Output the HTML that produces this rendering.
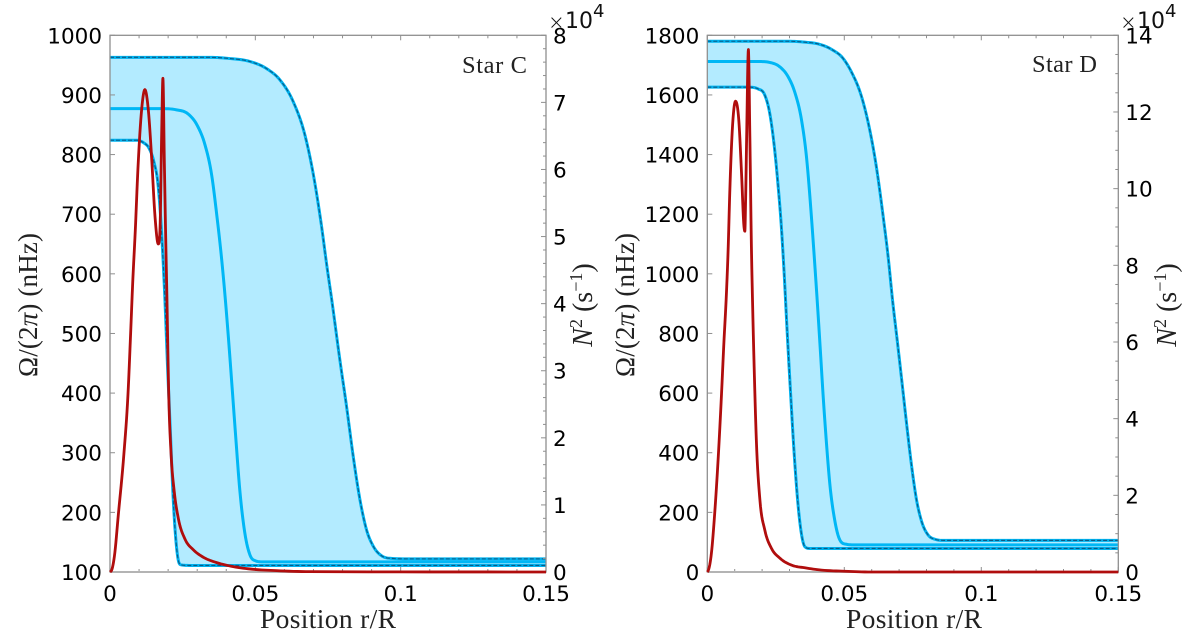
<!DOCTYPE html>
<html lang="en">
<head>
<meta charset="utf-8">
<title>Rotation profiles of Star C and Star D</title>
<style>
html,body{margin:0;padding:0;background:#fff;width:1200px;height:635px;overflow:hidden}
svg{display:block}
.tick-label{font-family:"DejaVu Sans",sans-serif;font-size:21.5px;fill:#000}
.serif{font-family:"Liberation Serif",serif;fill:#222}
</style>
</head>
<body>
<svg id="chart" xmlns="http://www.w3.org/2000/svg" width="1200" height="635" viewBox="0 0 1200 635">
  <g id="panel-c"></g>
  <g id="panel-d"></g>

  <text class="serif" x="328" y="628" font-size="27.5" text-anchor="middle" textLength="136" lengthAdjust="spacing">Position r/R</text>
  <text class="serif" x="914" y="628" font-size="27.5" text-anchor="middle" textLength="136" lengthAdjust="spacing">Position r/R</text>

  <text class="serif" transform="translate(37,305) rotate(-90)" font-size="27" text-anchor="middle" textLength="144" lengthAdjust="spacing">Ω/(2<tspan font-style="italic">π</tspan>) (nHz)</text>
  <text class="serif" transform="translate(634,305) rotate(-90)" font-size="27" text-anchor="middle" textLength="144" lengthAdjust="spacing">Ω/(2<tspan font-style="italic">π</tspan>) (nHz)</text>

  <text class="serif" transform="translate(592,305) rotate(-90)" font-size="28" text-anchor="middle"><tspan font-style="italic">N</tspan><tspan font-size="18" dy="-10">2</tspan><tspan dy="10"> (s</tspan><tspan font-size="18" dy="-10">−1</tspan><tspan dy="10">)</tspan></text>
  <text class="serif" transform="translate(1176,305) rotate(-90)" font-size="28" text-anchor="middle"><tspan font-style="italic">N</tspan><tspan font-size="18" dy="-10">2</tspan><tspan dy="10"> (s</tspan><tspan font-size="18" dy="-10">−1</tspan><tspan dy="10">)</tspan></text>

  <text class="serif" x="462" y="73" font-size="24.5" textLength="65" lengthAdjust="spacing">Star C</text>
  <text class="serif" x="1032" y="72" font-size="24.5" textLength="65" lengthAdjust="spacing">Star D</text>

  <g font-family="DejaVu Sans, sans-serif" fill="#111">
    <text x="548" y="29" font-size="20" font-weight="200">×</text>
    <text x="565" y="28" font-size="22">10</text>
    <text x="593" y="17" font-size="18">4</text>
  </g>
  <g font-family="DejaVu Sans, sans-serif" fill="#111">
    <text x="1120" y="29" font-size="20" font-weight="200">×</text>
    <text x="1137" y="28" font-size="22">10</text>
    <text x="1165" y="17" font-size="18">4</text>
  </g>
</svg>

<script>
// Shared x axis
const xMajorTicks = [0, 0.05, 0.1, 0.15];
const xMinorTicks = [0.01, 0.02, 0.03, 0.04, 0.06, 0.07, 0.08, 0.09, 0.11, 0.12, 0.13, 0.14];
const xTickLabels = ["0", "0.05", "0.1", "0.15"];

// Star C axes
const cOmegaTicks = [100, 200, 300, 400, 500, 600, 700, 800, 900, 1000];
const cN2Ticks = [0, 1, 2, 3, 4, 5, 6, 7, 8];
const cN2Minor = [0.2, 0.4, 0.6, 0.8, 1.2, 1.4, 1.6, 1.8, 2.2, 2.4, 2.6, 2.8, 3.2, 3.4, 3.6, 3.8, 4.2, 4.4, 4.6, 4.8, 5.2, 5.4, 5.6, 5.8, 6.2, 6.4, 6.6, 6.8, 7.2, 7.4, 7.6, 7.8];

// Star C series (position r/R, rotation nHz, N^2 in 1e4 s^-1)
const cUpperR = [0, 0.0344, 0.0413, 0.0482, 0.0539, 0.0585, 0.0631, 0.0671, 0.0699, 0.0728, 0.0745, 0.0763, 0.0791, 0.0814, 0.0837, 0.086, 0.0883, 0.0906, 0.0935, 0.0963, 0.1032, 0.15];
const cUpperOmega = [963, 963, 961, 956, 944, 925, 888, 832, 768, 679, 617, 556, 455, 377, 293, 221, 170, 143, 127, 123, 122, 122];
const cMiddleR = [0, 0.0172, 0.0229, 0.0269, 0.03, 0.0327, 0.035, 0.0367, 0.0384, 0.0397, 0.0408, 0.042, 0.0432, 0.0447, 0.0464, 0.0482, 0.0499, 0.0527, 0.15];
const cMiddleOmega = [877, 877, 875, 868, 849, 816, 765, 700, 625, 556, 489, 410, 330, 235, 165, 128, 119, 117, 117];
const cLowerR = [0, 0.0092, 0.0115, 0.0135, 0.0151, 0.0166, 0.0178, 0.0189, 0.0198, 0.0208, 0.0216, 0.0224, 0.0233, 0.0244, 0.0275, 0.15];
const cLowerOmega = [824, 824, 820, 810, 788, 746, 665, 556, 444, 332, 237, 170, 125, 112, 111, 111];
const cN2R = [0, 0.0006, 0.0015, 0.0029, 0.0048, 0.0062, 0.0071, 0.0078, 0.0087, 0.0096, 0.0109, 0.012, 0.0132, 0.0143, 0.0155, 0.0166, 0.0172, 0.0178, 0.0182, 0.0187, 0.0192, 0.0196, 0.0198, 0.0202, 0.021, 0.0221, 0.0235, 0.0258, 0.0287, 0.0321, 0.0367, 0.0424, 0.0493, 0.0573, 0.0688, 0.15];
const cN2 = [0, 0.03, 0.23, 0.87, 1.77, 2.66, 3.56, 4.3, 5.09, 6.0, 6.9, 7.19, 6.88, 6.19, 5.29, 4.89, 5.1, 6.59, 7.36, 6.1, 4.9, 4.05, 3.56, 2.66, 1.77, 1.2, 0.8, 0.49, 0.33, 0.22, 0.14, 0.08, 0.04, 0.02, 0.005, 0];

// Star D axes
const dOmegaTicks = [0, 200, 400, 600, 800, 1000, 1200, 1400, 1600, 1800];
const dN2Ticks = [0, 2, 4, 6, 8, 10, 12, 14];
const dN2Minor = [0.5, 1, 1.5, 2.5, 3, 3.5, 4.5, 5, 5.5, 6.5, 7, 7.5, 8.5, 9, 9.5, 10.5, 11, 11.5, 12.5, 13, 13.5];

// Star D series
const dUpperR = [0, 0.0295, 0.0356, 0.0405, 0.0453, 0.0496, 0.0526, 0.0563, 0.0593, 0.0617, 0.0642, 0.066, 0.0676, 0.0694, 0.071, 0.0727, 0.0745, 0.0763, 0.0782, 0.0806, 0.083, 0.0867, 0.15];
const dUpperOmega = [1780, 1780, 1777, 1771, 1753, 1722, 1677, 1594, 1482, 1359, 1191, 1057, 912, 770, 640, 500, 360, 245, 170, 124, 110, 106, 106];
const dMiddleR = [0, 0.0186, 0.0228, 0.0265, 0.0295, 0.0319, 0.0344, 0.0362, 0.038, 0.0392, 0.0401, 0.0411, 0.0423, 0.0435, 0.0447, 0.0465, 0.0484, 0.0508, 0.0538, 0.15];
const dMiddleOmega = [1712, 1712, 1709, 1694, 1661, 1610, 1515, 1392, 1191, 1035, 912, 767, 588, 431, 297, 174, 107, 93, 91, 91];
const dLowerR = [0, 0.0149, 0.0186, 0.021, 0.0228, 0.0246, 0.0258, 0.0269, 0.028, 0.0291, 0.0304, 0.0317, 0.0335, 0.0346, 0.0356, 0.0374, 0.15];
const dLowerOmega = [1626, 1626, 1620, 1599, 1538, 1415, 1300, 1175, 1010, 815, 599, 398, 190, 115, 85, 79, 79];
const dN2R = [0, 0.0003, 0.0015, 0.0027, 0.004, 0.0052, 0.006, 0.007, 0.0076, 0.0082, 0.0091, 0.0103, 0.0115, 0.0125, 0.0134, 0.0137, 0.014, 0.0144, 0.015, 0.0155, 0.0161, 0.0165, 0.0171, 0.0179, 0.0192, 0.021, 0.0234, 0.0265, 0.0307, 0.0356, 0.0417, 0.0502, 0.0599, 0.15];
const dN2 = [0, 0.03, 0.49, 1.53, 3.0, 4.66, 5.9, 7.3, 8.4, 9.9, 11.5, 12.28, 11.78, 10.39, 9.0, 8.89, 9.78, 11.52, 13.63, 11.52, 8.48, 7.09, 5.35, 3.44, 1.88, 1.09, 0.62, 0.36, 0.18, 0.11, 0.05, 0.02, 0, 0];

const NS = "http://www.w3.org/2000/svg";
const COLOR_AXIS = "#8f8f8f";

function make(parent, tag, attrs) {
  const el = document.createElementNS(NS, tag);
  for (const k in attrs) el.setAttribute(k, attrs[k]);
  parent.appendChild(el);
  return el;
}

// Smooth curve through the read points (limited cubic tangents)
function smooth(xs, ys) {
  const n = xs.length, d = [], m = new Array(n).fill(0), out = [];
  for (let i = 0; i < n - 1; i++) d.push((ys[i + 1] - ys[i]) / (xs[i + 1] - xs[i]));
  m[0] = d[0];
  m[n - 1] = d[n - 2];
  for (let i = 1; i < n - 1; i++) {
    if (d[i - 1] * d[i] > 0) {
      const h0 = xs[i] - xs[i - 1], h1 = xs[i + 1] - xs[i];
      const mean = (h1 * d[i - 1] + h0 * d[i]) / (h0 + h1);
      const lim = 3 * Math.min(Math.abs(d[i - 1]), Math.abs(d[i]));
      m[i] = Math.sign(mean) * Math.min(Math.abs(mean), lim);
    }
  }
  for (let i = 0; i < n - 1; i++) {
    const h = xs[i + 1] - xs[i], steps = 8;
    for (let s = 0; s < steps; s++) {
      const t = s / steps, t2 = t * t, t3 = t2 * t;
      out.push([
        xs[i] + t * h,
        (2 * t3 - 3 * t2 + 1) * ys[i] + (t3 - 2 * t2 + t) * h * m[i] +
        (-2 * t3 + 3 * t2) * ys[i + 1] + (t3 - t2) * h * m[i + 1]
      ]);
    }
  }
  out.push([xs[n - 1], ys[n - 1]]);
  return out;
}

function drawPanel(root, cfg) {
  const sx = r => cfg.x0 + (r - 0) / 0.15 * (cfg.x1 - cfg.x0);
  const syL = v => cfg.y1 - (v - cfg.omegaMin) / (cfg.omegaMax - cfg.omegaMin) * (cfg.y1 - cfg.y0);
  const syR = v => cfg.y1 - v / cfg.n2Max * (cfg.y1 - cfg.y0);
  const pathOf = (pts, sy) => pts.map((p, i) => (i ? "L" : "M") + sx(p[0]).toFixed(2) + " " + sy(p[1]).toFixed(2)).join("");

  const upper = smooth(cfg.upperR, cfg.upperOmega);
  const middle = smooth(cfg.middleR, cfg.middleOmega);
  const lower = smooth(cfg.lowerR, cfg.lowerOmega);
  const red = smooth(cfg.n2R, cfg.n2);

  // band between upper and lower rotation profiles
  const bandPath = pathOf(upper.concat(lower.slice().reverse()), syL) + "Z";
  const band = make(root, "path", { d: bandPath, fill: "#b3ebff", stroke: "none" });
  
  

  const upperLine = make(root, "path", { d: pathOf(upper, syL), fill: "none", stroke: "#00b2ee", "stroke-width": 3 });
  
  
  const upperDash = make(root, "path", { d: pathOf(upper, syL), fill: "none", stroke: "#0b5a86", "stroke-width": 1.1, "stroke-dasharray": "4 2" });
  
  

  const lowerLine = make(root, "path", { d: pathOf(lower, syL), fill: "none", stroke: "#00b2ee", "stroke-width": 3 });
  
  
  const lowerDash = make(root, "path", { d: pathOf(lower, syL), fill: "none", stroke: "#0b5a86", "stroke-width": 1.1, "stroke-dasharray": "4 2" });
  
  

  const middleLine = make(root, "path", { d: pathOf(middle, syL), fill: "none", stroke: "#00b7f5", "stroke-width": 3 });
  
  

  // axes box
  const box = make(root, "rect", { x: cfg.x0, y: cfg.y0, width: cfg.x1 - cfg.x0, height: cfg.y1 - cfg.y0, fill: "none", stroke: COLOR_AXIS, "stroke-width": 1.3 });
  
  

  const tick = (x1, y1, x2, y2, name) => {
    const t = make(root, "line", { x1, y1, x2, y2, stroke: COLOR_AXIS, "stroke-width": 1 });
    
    
  };
  const label = (x, y, str, anchor, name) => {
    const t = make(root, "text", { x, y, "text-anchor": anchor, class: "tick-label" });
    t.textContent = str;
    
    
  };

  xMajorTicks.forEach((v, i) => {
    tick(sx(v), cfg.y1, sx(v), cfg.y1 - 5, "x-tick");
    tick(sx(v), cfg.y0, sx(v), cfg.y0 + 5, "x-tick-top");
    label(sx(v), 601, xTickLabels[i], "middle", "x-tick-label");
  });
  xMinorTicks.forEach(v => {
    tick(sx(v), cfg.y1, sx(v), cfg.y1 - 3, "x-minor-tick");
    tick(sx(v), cfg.y0, sx(v), cfg.y0 + 3, "x-minor-tick-top");
  });
  cfg.omegaTicks.forEach(v => {
    tick(cfg.x0, syL(v), cfg.x0 + 5, syL(v), "left-y-tick");
    label(cfg.x0 - 8, syL(v) + 8, String(v), "end", "left-y-tick-label");
  });
  cfg.n2Ticks.forEach(v => {
    tick(cfg.x1, syR(v), cfg.x1 - 5, syR(v), "right-y-tick");
    label(cfg.x1 + 7, syR(v) + 8, String(v), "start", "right-y-tick-label");
  });
  cfg.n2Minor.forEach(v => {
    tick(cfg.x1, syR(v), cfg.x1 - 3, syR(v), "right-y-minor-tick");
  });

  const baseline = make(root, "line", { x1: cfg.x0, y1: cfg.y1, x2: cfg.x1, y2: cfg.y1, stroke: "#b4b4b4", "stroke-width": 2 });
  
  

  const redLine = make(root, "path", { d: pathOf(red, syR), fill: "none", stroke: "#b00d0d", "stroke-width": 2.8, "stroke-linejoin": "round" });
  
  
}

drawPanel(document.getElementById("panel-c"), {
  x0: 110, x1: 546, y0: 35.3, y1: 572,
  omegaMin: 100, omegaMax: 1000, n2Max: 8,
  omegaTicks: cOmegaTicks, n2Ticks: cN2Ticks, n2Minor: cN2Minor,
  upperR: cUpperR, upperOmega: cUpperOmega,
  middleR: cMiddleR, middleOmega: cMiddleOmega,
  lowerR: cLowerR, lowerOmega: cLowerOmega,
  n2R: cN2R, n2: cN2
});
drawPanel(document.getElementById("panel-d"), {
  x0: 707.3, x1: 1118.3, y0: 35.3, y1: 572,
  omegaMin: 0, omegaMax: 1800, n2Max: 14,
  omegaTicks: dOmegaTicks, n2Ticks: dN2Ticks, n2Minor: dN2Minor,
  upperR: dUpperR, upperOmega: dUpperOmega,
  middleR: dMiddleR, middleOmega: dMiddleOmega,
  lowerR: dLowerR, lowerOmega: dLowerOmega,
  n2R: dN2R, n2: dN2
});
</script>
</body>
</html>
